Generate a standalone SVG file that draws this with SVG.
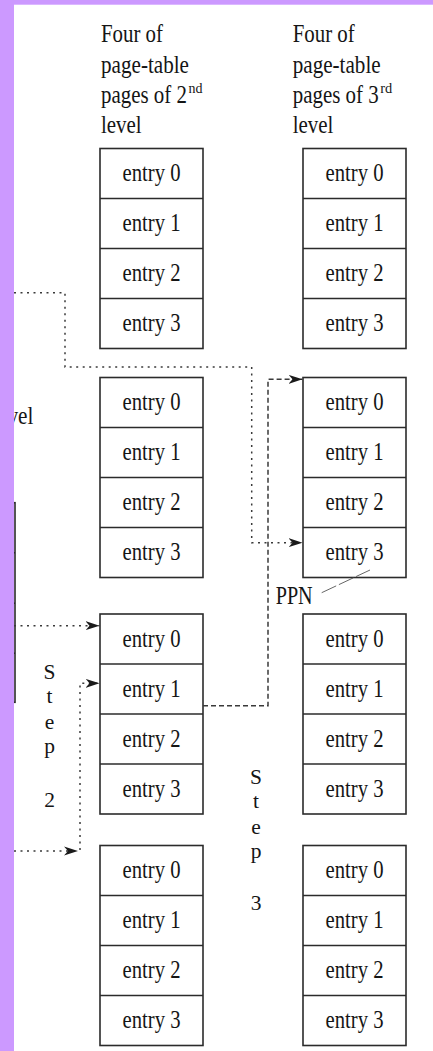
<svg xmlns="http://www.w3.org/2000/svg" width="433" height="1051" viewBox="0 0 433 1051">
  <style>
    .box { fill: #ffffff; stroke: #2b2b2b; stroke-width: 1.6; }
    .div { stroke: #2b2b2b; stroke-width: 1.6; }
    .t { font-family: "Liberation Serif", "Times New Roman", serif; font-size: 24.5px; fill: #151515; }
    .e { text-anchor: middle; }
    .step { font-family: "Liberation Serif", "Times New Roman", serif; font-size: 21.5px; fill: #151515; text-anchor: middle; }
    .sup { font-size: 14.5px; }
    .dot { fill: none; stroke: #3a3a3a; stroke-width: 1.5; stroke-dasharray: 2 4.5; }
    .dash { fill: none; stroke: #3a3a3a; stroke-width: 1.5; stroke-dasharray: 5 3; }
  </style>
  <defs>
    <marker id="arrow" markerUnits="userSpaceOnUse" markerWidth="15" markerHeight="10" refX="14" refY="5" orient="auto">
      <path d="M0,0.5 L14,5 L0,9.5 L4,5 Z" fill="#1a1a1a"/>
    </marker>
    <!-- one page-table page: four stacked entries -->
    <g id="page">
      <rect class="box" x="0" y="0" width="103" height="200"/>
      <line class="div" x1="0" y1="50" x2="103" y2="50"/>
      <line class="div" x1="0" y1="100" x2="103" y2="100"/>
      <line class="div" x1="0" y1="150" x2="103" y2="150"/>
      <text class="t e" x="51.5" y="32.5" textLength="58" lengthAdjust="spacingAndGlyphs">entry 0</text>
      <text class="t e" x="51.5" y="82.5" textLength="58" lengthAdjust="spacingAndGlyphs">entry 1</text>
      <text class="t e" x="51.5" y="132.5" textLength="58" lengthAdjust="spacingAndGlyphs">entry 2</text>
      <text class="t e" x="51.5" y="182.5" textLength="58" lengthAdjust="spacingAndGlyphs">entry 3</text>
    </g>
  </defs>

  <rect x="0" y="0" width="433" height="1051" fill="#ffffff"/>

  <!-- column headings -->
  <g id="heading-2nd">
    <text class="t" x="101" y="42" textLength="62" lengthAdjust="spacingAndGlyphs">Four of</text>
    <text class="t" x="101" y="72.5" textLength="88" lengthAdjust="spacingAndGlyphs">page-table</text>
    <text class="t" x="101" y="103"><tspan textLength="86" lengthAdjust="spacingAndGlyphs">pages of 2</tspan><tspan class="sup" dx="1.5" dy="-10" textLength="14" lengthAdjust="spacingAndGlyphs">nd</tspan></text>
    <text class="t" x="101" y="133" textLength="40.7" lengthAdjust="spacingAndGlyphs">level</text>
  </g>
  <g id="heading-3rd">
    <text class="t" x="292.7" y="42" textLength="62" lengthAdjust="spacingAndGlyphs">Four of</text>
    <text class="t" x="292.7" y="72.5" textLength="88" lengthAdjust="spacingAndGlyphs">page-table</text>
    <text class="t" x="292.7" y="103"><tspan textLength="86" lengthAdjust="spacingAndGlyphs">pages of 3</tspan><tspan class="sup" dx="1.5" dy="-10" textLength="12" lengthAdjust="spacingAndGlyphs">rd</tspan></text>
    <text class="t" x="292.7" y="133" textLength="40.7" lengthAdjust="spacingAndGlyphs">level</text>
  </g>

  <!-- second-level pages -->
  <g id="l2-page0"><use href="#page" x="100" y="148.5"/></g>
  <g id="l2-page1"><use href="#page" x="100" y="377.5"/></g>
  <g id="l2-page2"><use href="#page" x="100" y="614"/></g>
  <g id="l2-page3"><use href="#page" x="100" y="845.5"/></g>

  <!-- third-level pages -->
  <g id="l3-page0"><use href="#page" x="303" y="148.5"/></g>
  <g id="l3-page1"><use href="#page" x="303" y="377.5"/></g>
  <g id="l3-page2"><use href="#page" x="303" y="614"/></g>
  <g id="l3-page3"><use href="#page" x="303" y="845.5"/></g>

  <!-- first-level page, cut off at the left edge -->
  <g id="l1-page">
    <rect class="box" x="-30" y="502.7" width="45" height="199.6"/>
    <line class="div" x1="-30" y1="552.7" x2="15" y2="552.7"/>
    <line class="div" x1="-30" y1="603.3" x2="15" y2="603.3"/>
    <line class="div" x1="-30" y1="653.3" x2="15" y2="653.3"/>
    <text class="t" x="7.4" y="424" textLength="26" lengthAdjust="spacingAndGlyphs">vel</text>
  </g>

  <!-- step labels -->
  <g id="step2">
    <text class="step" x="49.5" y="679.3">S</text>
    <text class="step" x="49.5" y="703.3">t</text>
    <text class="step" x="49.5" y="729">e</text>
    <text class="step" x="49.5" y="753">p</text>
    <text class="step" x="49.5" y="806.7">2</text>
  </g>
  <g id="step3">
    <text class="step" x="256" y="784.3">S</text>
    <text class="step" x="256" y="808.3">t</text>
    <text class="step" x="256" y="834">e</text>
    <text class="step" x="256" y="858.3">p</text>
    <text class="step" x="256" y="910">3</text>
  </g>

  <g id="ppn">
    <text class="t" x="275.7" y="604" textLength="37" lengthAdjust="spacingAndGlyphs">PPN</text>
    <line x1="321.7" y1="592.7" x2="370" y2="570" stroke="#555" stroke-width="0.9" stroke-dasharray="16 3"/>
  </g>

  <!-- connectors -->
  <g id="connectors">
    <path class="dot" d="M14,292.7 H65 V367 H251.7 V542.7 H302.5" marker-end="url(#arrow)"/>
    <path class="dash" d="M203,705.7 H268 V379.3 H302.5" marker-end="url(#arrow)"/>
    <path class="dot" d="M14,625.7 H99.5" marker-end="url(#arrow)"/>
    <path class="dot" d="M14,851 H78" marker-end="url(#arrow)"/>
    <path class="dot" d="M80,850 V683.3 H99.5" marker-end="url(#arrow)"/>
  </g>

  <!-- frame bands -->
  <rect x="0" y="0" width="433" height="4.7" fill="#CC99FF"/>
  <rect x="0" y="0" width="14" height="1051" fill="#CC99FF"/>
</svg>
